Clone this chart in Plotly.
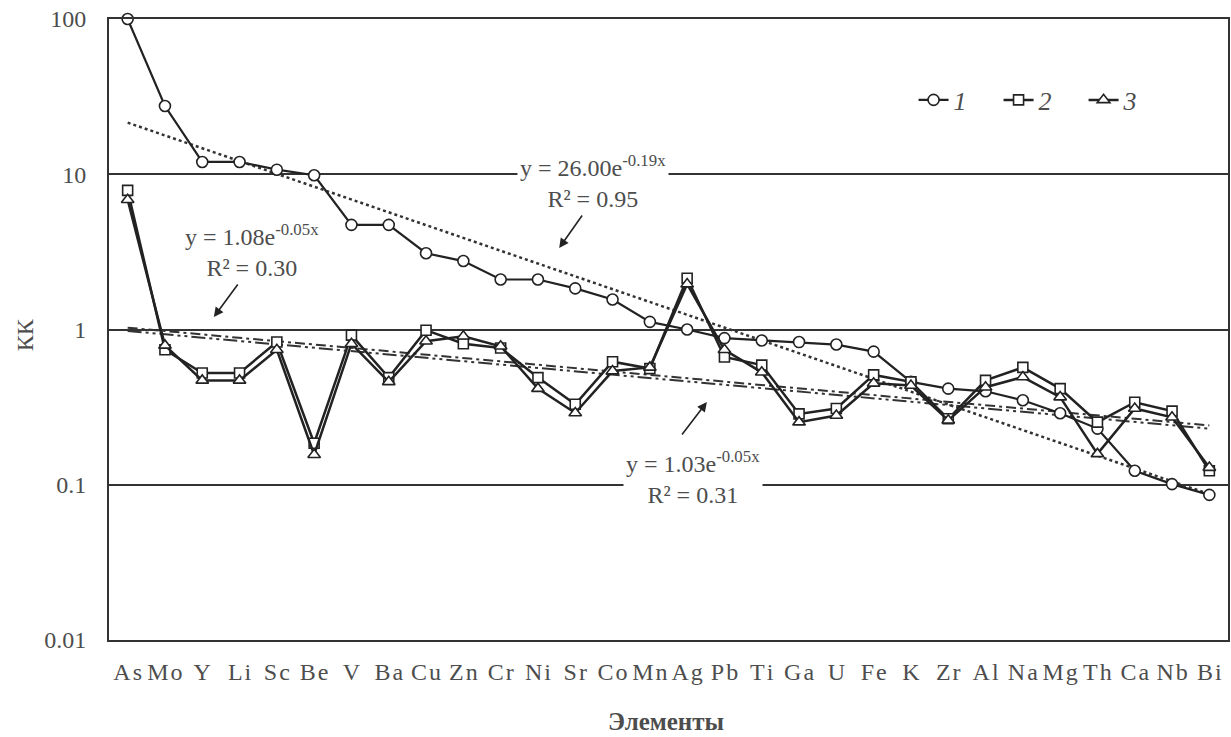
import numpy as np
import plotly.graph_objects as go

# Elements ordered along the x axis
elements = ["As", "Mo", "Y", "Li", "Sc", "Be", "V", "Ba", "Cu", "Zn", "Cr", "Ni", "Sr", "Co", "Mn",
            "Ag", "Pb", "Ti", "Ga", "U", "Fe", "K", "Zr", "Al", "Na", "Mg", "Th", "Ca", "Nb", "Bi"]

# Concentration coefficients (KK) for the three groups
kk_1 = [100, 27.5, 12.0, 12.0, 10.7, 9.85, 4.72, 4.72, 3.10, 2.76, 2.10, 2.10, 1.84, 1.56, 1.12,
        1.00, 0.88, 0.85, 0.83, 0.80, 0.72, 0.46, 0.416, 0.40, 0.35, 0.289, 0.23, 0.123, 0.101, 0.086]
kk_2 = [7.87, 0.74, 0.525, 0.525, 0.83, 0.185, 0.92, 0.49, 0.99, 0.81, 0.76, 0.49, 0.33, 0.62, 0.56,
        2.14, 0.665, 0.59, 0.286, 0.31, 0.51, 0.46, 0.266, 0.47, 0.57, 0.416, 0.253, 0.34, 0.298, 0.123]
kk_3 = [6.85, 0.79, 0.47, 0.47, 0.74, 0.156, 0.81, 0.46, 0.84, 0.905, 0.78, 0.416, 0.29, 0.54, 0.57,
        1.96, 0.74, 0.53, 0.253, 0.279, 0.45, 0.436, 0.26, 0.425, 0.494, 0.367, 0.158, 0.31, 0.272, 0.129]

# Exponential trend coefficients y = a * exp(b * x), x = 1..30
trend_1 = (26.00, -0.19)
trend_2 = (1.08, -0.05)
trend_3 = (1.03, -0.05)

y_ticks = [0.01, 0.1, 1, 10, 100]
y_tick_text = ["0.01", "0.1", "1", "10", "100"]

INK = "#222222"
TEXT = "#4d4d4d"
FONT = "Liberation Serif"
HAIR = "\u200a"

xi = np.arange(1, len(elements) + 1)


def trend(coef):
    a, b = coef
    return a * np.exp(b * xi)


fig = go.Figure()

# Trend lines
fig.add_trace(go.Scatter(x=elements, y=trend(trend_1), mode="lines", showlegend=False,
                         line=dict(color="#333333", width=2.5, dash="dot"), hoverinfo="skip"))
fig.add_trace(go.Scatter(x=elements, y=trend(trend_2), mode="lines", showlegend=False,
                         line=dict(color="#333333", width=2, dash="10px,4px,3px,4px"), hoverinfo="skip"))
fig.add_trace(go.Scatter(x=elements, y=trend(trend_3), mode="lines", showlegend=False,
                         line=dict(color="#333333", width=2, dash="14px,4px,3px,4px,3px,4px"),
                         hoverinfo="skip"))

# Data series
series = [
    ("<i>1</i>", kk_1, "circle", 11, 2.2),
    ("<i>2</i>", kk_2, "square", 10, 2.5),
    ("<i>3</i>", kk_3, "triangle-up", 11, 2.5),
]
for name, vals, sym, size, lw in series:
    fig.add_trace(go.Scatter(
        x=elements, y=vals, name=name, mode="lines+markers", cliponaxis=False,
        line=dict(color=INK, width=lw),
        marker=dict(symbol=sym, size=size, color="white", line=dict(color=INK, width=1.6)),
    ))

# Trend equations
eq_font = dict(family=FONT, size=24, color=TEXT)
labels = [
    ("y = 26.00e<sup>-0.19x</sup><br>R² = 0.95", 0.4327, 0.739),
    ("y = 1.08e<sup>-0.05x</sup><br>R² = 0.30", 0.1276, 0.628),
    ("y = 1.03e<sup>-0.05x</sup><br>R² = 0.31", 0.5219, 0.261),
]
for txt, px, py in labels:
    fig.add_annotation(text=txt, x=px, y=py, xref="paper", yref="paper", showarrow=False,
                       xanchor="center", yanchor="middle",
                       font=eq_font, bgcolor="white", borderpad=2, align="center")

# Arrows from equations to their trend lines
arrows = [
    (0.4023, 0.6312, 24, -34),
    (0.0937, 0.5201, 25, -34),
    (0.5343, 0.3833, -26, 34),
]
for px, py, ax, ay in arrows:
    fig.add_annotation(text="", x=px, y=py, xref="paper", yref="paper", showarrow=True,
                       ax=ax, ay=ay, arrowhead=2, arrowsize=1.2, arrowwidth=1.6, arrowcolor=INK)

# Axis titles
fig.add_annotation(text="КК", x=-0.0749, y=0.491, xref="paper", yref="paper", showarrow=False,
                   xanchor="center", yanchor="middle", textangle=-90,
                   font=dict(family=FONT, size=24, color=TEXT))
fig.add_annotation(text="<b>Элементы</b>", x=0.498, y=-0.132, xref="paper", yref="paper",
                   xanchor="center", yanchor="middle",
                   showarrow=False, font=dict(family=FONT, size=25, color=TEXT))

fig.update_layout(
    width=1231, height=737,
    margin=dict(l=109, r=1, t=19, b=97),
    paper_bgcolor="white", plot_bgcolor="white",
    font=dict(family=FONT, size=24, color=TEXT),
    legend=dict(orientation="h", x=0.719, y=0.8696, xanchor="left", yanchor="middle",
                bgcolor="rgba(0,0,0,0)", font=dict(family=FONT, size=26, color=TEXT),
                entrywidth=40, entrywidthmode="pixels"),
    xaxis=dict(type="category", categoryorder="array", categoryarray=elements,
               range=[-0.5, len(elements) - 0.5], showgrid=False, ticks="",
               tickvals=elements, ticktext=[HAIR.join(e) for e in elements],
               showline=True, mirror=True, linecolor="#333333", linewidth=2,
               ticklabelstandoff=9,
               tickfont=dict(family=FONT, size=24, color=TEXT)),
    yaxis=dict(type="log", range=[-2, 2], tickvals=y_ticks, ticktext=y_tick_text,
               showgrid=True, gridcolor="#333333", gridwidth=1.5, ticks="",
               showline=True, mirror=True, linecolor="#333333", linewidth=2,
               zeroline=False, ticklabelstandoff=16,
               tickfont=dict(family=FONT, size=24, color=TEXT)),
)

fig.write_html("out.html")
